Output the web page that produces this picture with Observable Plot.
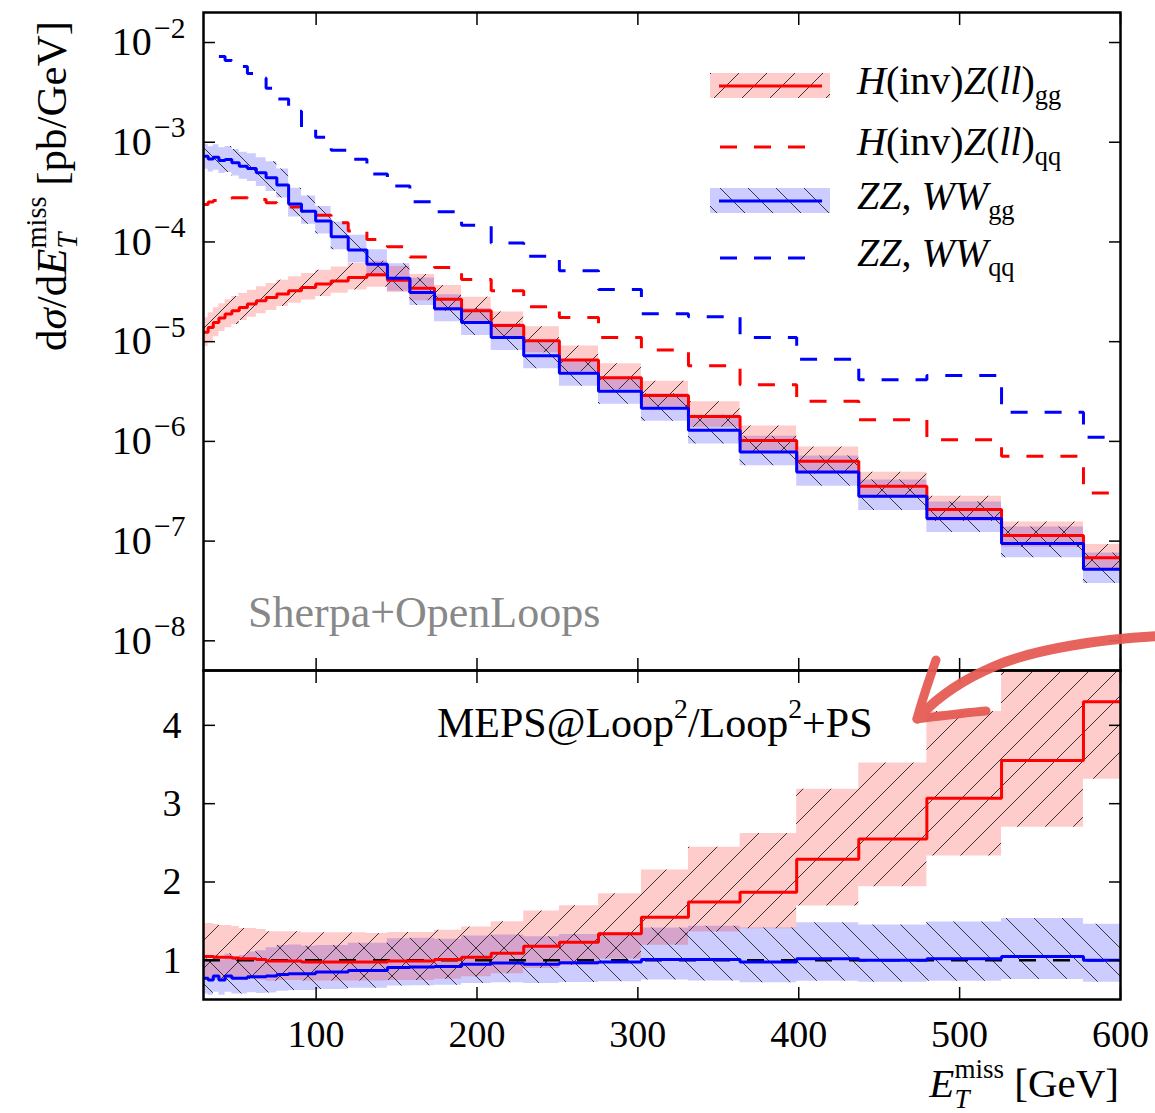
<!DOCTYPE html>
<html><head><meta charset="utf-8">
<script src="https://cdn.jsdelivr.net/npm/d3@7"></script>
<script src="https://cdn.jsdelivr.net/npm/@observablehq/plot@0.6"></script>
<style>
html,body{margin:0;padding:0;background:#fff;}
#wrap{position:relative;width:1155px;height:1113px;overflow:hidden;}
#wrap svg{position:absolute;left:0;}
</style></head><body>
<svg width="0" height="0" style="position:absolute;left:0;top:0">
<defs>
<pattern id="hatchF" patternUnits="userSpaceOnUse" width="28" height="28">
<path d="M-7,7L7,-7M0,28L28,0M21,35L35,21" stroke="#222" stroke-width="0.9"/>
</pattern>
<pattern id="hatchB" patternUnits="userSpaceOnUse" width="28" height="28">
<path d="M-7,21L7,35M0,0L28,28M21,-7L35,7" stroke="#222" stroke-width="0.9"/>
</pattern>
</defs></svg>
<div id="wrap"></div>
<script>
const FONT = '"Liberation Serif", "DejaVu Serif", serif';

// bin edges (GeV)
const edges = [30, 32.9, 36.09, 39.58, 43.41, 47.62, 52.23, 57.28, 62.83, 68.91, 75.58, 82.9, 90.92, 99.72,
  109.37, 119.96, 131.57, 144.31, 158.28, 173.6, 190.4, 208.83, 229.04, 251.21, 275.53, 302.2, 331.45,
  363.53, 398.72, 437.31, 479.64, 526.06, 576.98, 632.83];

// dσ/dE (pb/GeV) per bin
const redGG = [1.24e-5, 1.39e-5, 1.56e-5, 1.73e-5, 1.89e-5, 2.04e-5, 2.20e-5, 2.38e-5, 2.57e-5, 2.77e-5,
  3.00e-5, 3.24e-5, 3.49e-5, 3.78e-5, 4.07e-5, 4.40e-5, 4.68e-5, 4.14e-5, 3.44e-5, 2.67e-5, 2.04e-5,
  1.45e-5, 1.02e-5, 6.56e-6, 4.34e-6, 2.88e-6, 1.78e-6, 1.02e-6, 6.31e-7, 3.55e-7, 2.07e-7, 1.14e-7, 6.81e-8];
const blueGG = [7.24e-4, 6.81e-4, 7.08e-4, 6.56e-4, 6.71e-4, 6.21e-4, 5.75e-4, 5.46e-4, 4.93e-4, 4.40e-4,
  3.72e-4, 2.40e-4, 2.03e-4, 1.62e-4, 1.13e-4, 8.32e-5, 5.98e-5, 4.32e-5, 3.11e-5, 2.14e-5, 1.56e-5,
  1.10e-5, 7.24e-6, 4.82e-6, 3.18e-6, 2.15e-6, 1.29e-6, 7.82e-7, 4.93e-7, 2.82e-7, 1.69e-7, 9.48e-8, 5.21e-8];
const redQQ = [2.38e-4, 2.51e-4, 2.60e-4, 2.69e-4, 2.75e-4, 2.77e-4, 2.77e-4, 2.75e-4, 2.67e-4, 2.47e-4,
  2.34e-4, 2.24e-4, 2.04e-4, 1.85e-4, 1.56e-4, 1.29e-4, 1.06e-4, 8.97e-5, 7.08e-5, 5.53e-5, 4.20e-5,
  3.24e-5, 2.24e-5, 1.75e-5, 1.10e-5, 8.26e-6, 5.75e-6, 3.69e-6, 2.53e-6, 1.65e-6, 1.04e-6, 7.08e-7, 3.04e-7];
const blueQQ = [null, null, null, 7.24e-3, 6.61e-3, 6.17e-3, 5.75e-3, 4.90e-3, 4.40e-3, 3.47e-3,
  2.71e-3, 2.04e-3, 1.35e-3, 1.12e-3, 8.32e-4, 6.76e-4, 4.79e-4, 3.63e-4, 2.53e-4, 2.01e-4, 1.47e-4,
  9.77e-5, 7.19e-5, 5.13e-5, 3.33e-5, 1.91e-5, 1.78e-5, 1.10e-5, 6.65e-6, 4.14e-6, 4.57e-6, 1.96e-6, 1.10e-6];

// ratio MEPS@Loop2 / Loop2+PS
const redRatio = [1.05, 1.05, 1.04, 1.04, 1.04, 1.03, 1.02, 1.02, 1.01, 0.99, 0.99, 0.99, 0.98, 0.98,
  0.98, 0.98, 0.98, 0.99, 0.99, 1.01, 1.04, 1.09, 1.18, 1.23, 1.34, 1.55, 1.745, 1.87, 2.29, 2.55, 3.07, 3.55, 4.30];
const blueRatio = [0.77, 0.75, 0.80, 0.75, 0.80, 0.77, 0.77, 0.79, 0.79, 0.80, 0.82, 0.83, 0.83, 0.85,
  0.85, 0.87, 0.87, 0.91, 0.915, 0.92, 0.95, 0.966, 0.95, 0.97, 0.98, 1.01, 1.01, 0.98, 1.02, 1.00, 1.02, 1.05, 1.00];

// uncertainty band factors (upper / lower)
const redUp = [1.40, 1.40, 1.40, 1.39, 1.39, 1.39, 1.38, 1.38, 1.38, 1.38, 1.38, 1.38, 1.38, 1.38, 1.38, 1.38,
  1.37, 1.37, 1.37, 1.37, 1.37, 1.37, 1.38, 1.38, 1.38, 1.39, 1.40, 1.40, 1.39, 1.38, 1.36, 1.36, 1.36];
const redDn = [0.72, 0.72, 0.72, 0.73, 0.73, 0.73, 0.74, 0.74, 0.74, 0.74, 0.75, 0.75, 0.75, 0.75, 0.75, 0.75,
  0.75, 0.75, 0.75, 0.75, 0.76, 0.76, 0.76, 0.76, 0.76, 0.77, 0.78, 0.75, 0.74, 0.76, 0.76, 0.76, 0.77];
const blueUp = [1.32, 1.32, 1.33, 1.34, 1.35, 1.36, 1.38, 1.40, 1.42, 1.45, 1.45, 1.44, 1.42, 1.40, 1.40, 1.40,
  1.40, 1.40, 1.40, 1.38, 1.38, 1.37, 1.37, 1.37, 1.38, 1.40, 1.42, 1.44, 1.45, 1.45, 1.46, 1.46, 1.46];
const blueDn = [0.74, 0.74, 0.74, 0.74, 0.74, 0.74, 0.74, 0.74, 0.73, 0.73, 0.74, 0.74, 0.74, 0.74, 0.74, 0.74,
  0.74, 0.74, 0.74, 0.74, 0.74, 0.74, 0.74, 0.74, 0.74, 0.74, 0.73, 0.73, 0.72, 0.72, 0.72, 0.72, 0.72];

const xTicks = [100, 200, 300, 400, 500, 600];
const yTicksTop = [1e-8, 1e-7, 1e-6, 1e-5, 1e-4, 1e-3, 1e-2];
const yTicksRatio = [1, 2, 3, 4];

function stepRows(vals, up, dn) {
  const n = vals.length;
  const r = (v, i) => ({x: edges[i], y: v,
    lo: (v == null || !dn) ? null : v * dn[Math.min(i, n - 1)],
    hi: (v == null || !up) ? null : v * up[Math.min(i, n - 1)]});
  const out = vals.map((v, i) => r(v, i));
  out.push(r(vals[n - 1], n));
  return out;
}

const rGG = stepRows(redGG, redUp, redDn);
const bGG = stepRows(blueGG, blueUp, blueDn);
const rQQ = stepRows(redQQ);
const bQQ = stepRows(blueQQ);
const rR = stepRows(redRatio, redUp, redDn);
const bR = stepRows(blueRatio, blueUp, blueDn);

const RED = "#ff0000", BLUE = "#0000ff";

function bandMarks(rd, bd) {
  const o = {x: "x", y1: "lo", y2: "hi", curve: "step-after", clip: true};
  return [
    Plot.areaY(bd, {...o, fill: BLUE, fillOpacity: 0.2}),
    Plot.areaY(rd, {...o, fill: RED, fillOpacity: 0.2}),
    Plot.areaY(bd, {...o, fill: "url(#hatchB)"}),
    Plot.areaY(rd, {...o, fill: "url(#hatchF)"})
  ];
}
function lineMark(d, color, dashed) {
  return Plot.line(d, {x: "x", y: "y", curve: "step-after", stroke: color, strokeWidth: 3,
    strokeDasharray: dashed ? "17,17" : null, strokeLinejoin: "miter", strokeLinecap: "butt", clip: true});
}
function frameTicks(yt) {
  const c = {tickSize: 12, tickFormat: () => "", label: null, strokeWidth: 1.5, stroke: "black"};
  return [
    Plot.axisX(xTicks, {...c, anchor: "bottom", dy: -12}),
    Plot.axisX(xTicks, {...c, anchor: "top", dy: 12}),
    Plot.axisY(yt, {...c, anchor: "left", dx: 12}),
    Plot.axisY(yt, {...c, anchor: "right", dx: -12})
  ];
}

const topPlot = Plot.plot({
  width: 1155, height: 672,
  marginLeft: 203, marginRight: 35, marginTop: 12, marginBottom: 2,
  style: {fontFamily: FONT, fontSize: "38px", background: "transparent", overflow: "visible", color: "black"},
  x: {domain: [30, 600]},
  y: {type: "log", domain: [5.04e-9, 2.0e-2]},
  marks: [
    ...bandMarks(rGG, bGG),
    lineMark(rQQ, RED, true),
    lineMark(bQQ, BLUE, true),
    lineMark(rGG, RED, false),
    lineMark(bGG, BLUE, false),
    Plot.frame({stroke: "black", strokeWidth: 2.5}),
    ...frameTicks(yTicksTop),
    Plot.axisY(yTicksTop, {anchor: "left", tickSize: 0, tickPadding: 18, label: null, fontSize: 40,
      tickFormat: d => "E" + Math.round(Math.log10(d))})
  ]
});

const botPlot = Plot.plot({
  width: 1155, height: 445,
  marginLeft: 203, marginRight: 35, marginTop: 2, marginBottom: 114,
  style: {fontFamily: FONT, fontSize: "38px", background: "transparent", overflow: "visible", color: "black"},
  x: {domain: [30, 600]},
  y: {domain: [0.5, 4.7]},
  marks: [
    ...bandMarks(rR, bR),
    Plot.ruleY([1], {stroke: "black", strokeWidth: 2.5, strokeDasharray: "17,17"}),
    lineMark(rR, RED, false),
    lineMark(bR, BLUE, false),
    Plot.frame({stroke: "black", strokeWidth: 2.5}),
    ...frameTicks(yTicksRatio),
    Plot.axisX(xTicks, {anchor: "bottom", tickSize: 0, tickPadding: 21, label: null, fontSize: 38, tickFormat: d => String(d)}),
    Plot.axisY(yTicksRatio, {anchor: "left", tickSize: 0, tickPadding: 22, label: null, fontSize: 38, tickFormat: d => String(d)})
  ]
});

const wrap = document.getElementById("wrap");
topPlot.style.top = "0px";
botPlot.style.top = "668px";
wrap.appendChild(topPlot);
wrap.appendChild(botPlot);

// superscript tick labels 10^-k
d3.select(topPlot).selectAll('g[aria-label="y-axis tick label"] text').each(function () {
  const s = (this.textContent || "").trim();
  if (!s.startsWith("E")) return;
  const e = Math.abs(parseInt(s.slice(1).replace("\u2212", "-"), 10));
  const t = d3.select(this);
  t.text(null);
  t.append("tspan").text("10");
  t.append("tspan").attr("dy", "-0.6em").attr("dx", "0.08em").attr("font-size", "0.74em").text("\u2212" + e);
});

// rich text helper
function rich(parent, parts, attrs) {
  const t = parent.append("text").attr("text-anchor", "start");
  for (const k in attrs) t.attr(k, attrs[k]);
  const size = +attrs["font-size"];
  let off = 0;
  const w = [];
  for (const p of parts) {
    const target = p.pos === "sup" ? -0.46 * size : p.pos === "sub" ? 0.26 * size : 0;
    const s = t.append("tspan").text(p.t);
    if (p.pos) s.attr("font-size", size * 0.66);
    if (p.i) s.attr("font-style", "italic");
    if (target !== off) { s.attr("dy", target - off); off = target; }
    if (p.back) s.attr("dx", -w[w.length - 1]);
    if (p.fwd) s.attr("dx", w[w.length - 2] - w[w.length - 1]);
    w.push(s.node().getComputedTextLength());
  }
  return t;
}

const gT = d3.select(topPlot).append("g").attr("font-family", FONT).attr("fill", "black").attr("text-anchor", "start");
const gB = d3.select(botPlot).append("g").attr("font-family", FONT).attr("fill", "black").attr("text-anchor", "start");

// y axis title
rich(gT, [{t: "d"}, {t: "\u03c3", i: 1}, {t: "/d"}, {t: "E", i: 1}, {t: "miss", pos: "sup"},
  {t: "T", pos: "sub", i: 1, back: 1}, {t: " [pb/GeV]", fwd: 1}],
  {"font-size": 43, "text-anchor": "middle", transform: "translate(66,186) rotate(-90)"});

// x axis title
rich(gB, [{t: "E", i: 1}, {t: "miss", pos: "sup"}, {t: "T", pos: "sub", i: 1, back: 1}, {t: " [GeV]", fwd: 1}],
  {"font-size": 41, "text-anchor": "end", x: 1119, y: 429});

// annotations
gT.append("text").attr("text-anchor", "start").attr("x", 248).attr("y", 627).attr("font-size", 44)
  .attr("fill", "#888888").text("Sherpa+OpenLoops");
rich(gB, [{t: "MEPS@Loop"}, {t: "2", pos: "sup"}, {t: "/Loop"}, {t: "2", pos: "sup"}, {t: "+PS"}],
  {"font-size": 42, x: 437, y: 69});

// legend
const legendRows = [
  {y: 86, color: RED, band: true, pat: "hatchF", parts: [{t: "H", i: 1}, {t: "(inv)"}, {t: "Z", i: 1}, {t: "("}, {t: "ll", i: 1}, {t: ")"}, {t: "gg", pos: "sub"}]},
  {y: 147, color: RED, band: false, parts: [{t: "H", i: 1}, {t: "(inv)"}, {t: "Z", i: 1}, {t: "("}, {t: "ll", i: 1}, {t: ")"}, {t: "qq", pos: "sub"}]},
  {y: 201, color: BLUE, band: true, pat: "hatchB", parts: [{t: "ZZ", i: 1}, {t: ", "}, {t: "WW", i: 1}, {t: "gg", pos: "sub"}]},
  {y: 258, color: BLUE, band: false, parts: [{t: "ZZ", i: 1}, {t: ", "}, {t: "WW", i: 1}, {t: "qq", pos: "sub"}]}
];
for (const r of legendRows) {
  if (r.band) {
    gT.append("rect").attr("x", 710).attr("y", r.y - 13).attr("width", 120).attr("height", 25)
      .attr("fill", r.color).attr("fill-opacity", 0.2);
    gT.append("rect").attr("x", 710).attr("y", r.y - 13).attr("width", 120).attr("height", 25)
      .attr("fill", `url(#${r.pat})`);
    gT.append("line").attr("x1", 719).attr("x2", 822).attr("y1", r.y).attr("y2", r.y)
      .attr("stroke", r.color).attr("stroke-width", 3);
  } else {
    gT.append("line").attr("x1", 720).attr("x2", 806).attr("y1", r.y).attr("y2", r.y)
      .attr("stroke", r.color).attr("stroke-width", 3).attr("stroke-dasharray", "17,17");
  }
  rich(gT, r.parts, {"font-size": 40, x: 857, y: r.y + 8});
}

// hand-drawn arrow overlay
const ov = d3.select(wrap).append("svg").attr("width", 1155).attr("height", 1113).style("top", "0px")
  .style("pointer-events", "none");
const arrow = ov.append("g").attr("fill", "none").attr("stroke", "#e65c55").attr("stroke-linecap", "round")
  .attr("stroke-linejoin", "round").attr("opacity", 0.95);
arrow.append("path").attr("stroke-width", 10)
  .attr("d", "M1162,636 C1100,639 1035,649 995,666 C962,680 938,697 921,715");
arrow.append("path").attr("stroke-width", 9).attr("d", "M936,660 C929,680 922,700 917,719");
arrow.append("path").attr("stroke-width", 9).attr("d", "M917,719 C940,716 962,713 986,711");
</script>
</body></html>
